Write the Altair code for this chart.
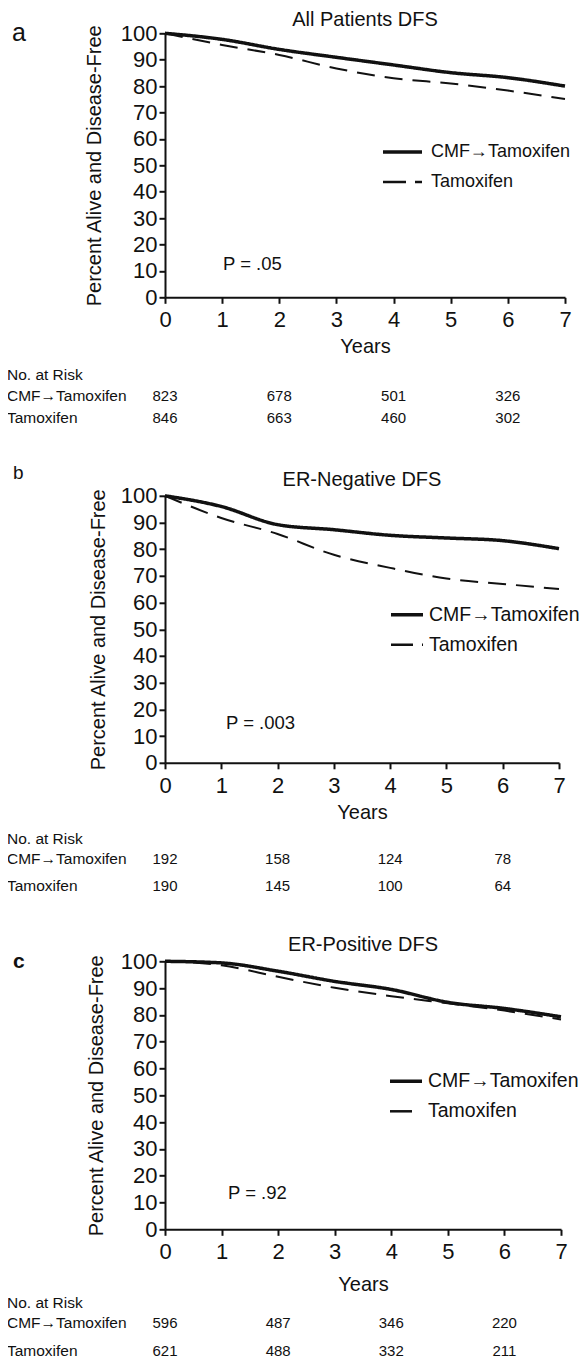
import altair as alt
import pandas as pd

FONT = "Liberation Sans"
INK = "#111111"

YEARS = [0, 1, 2, 3, 4, 5, 6, 7]
ARMS = ["CMF→Tamoxifen", "Tamoxifen"]
Y_TICKS = [0, 10, 20, 30, 40, 50, 60, 70, 80, 90, 100]

# Panel a: All Patients DFS
A_CMF = [100, 97.7, 93.9, 90.9, 88.0, 85.1, 83.2, 80.0]
A_TAM = [100, 95.6, 91.8, 86.7, 83.0, 81.0, 78.3, 75.1]
# Panel b: ER-Negative DFS
B_CMF = [100, 96.0, 89.2, 87.3, 85.2, 84.2, 83.2, 80.2]
B_TAM = [100, 91.7, 85.7, 77.9, 73.0, 69.0, 67.0, 65.1]
# Panel c: ER-Positive DFS
C_CMF = [100, 99.4, 96.3, 92.5, 89.5, 84.7, 82.4, 79.3]
C_TAM = [100, 98.5, 94.2, 90.1, 87.0, 84.3, 81.6, 78.3]

RISK_YEARS = [0, 2, 4, 6]
A_RISK_CMF = [823, 678, 501, 326]
A_RISK_TAM = [846, 663, 460, 302]
B_RISK_CMF = [192, 158, 124, 78]
B_RISK_TAM = [190, 145, 100, 64]
C_RISK_CMF = [596, 487, 346, 220]
C_RISK_TAM = [621, 488, 332, 211]

PANELS = [
    dict(letter="a", letter_x=-153, letter_y=-0.3, letter_size=25, letter_weight="normal",
         title="All Patients DFS", title_y=-13.6, cmf=A_CMF, tam=A_TAM,
         risk_cmf=A_RISK_CMF, risk_tam=A_RISK_TAM, pval="P = .05", p_x=58, p_y=230.7,
         W=400, H=264, leg_x1=218, leg_x2=257, leg_text=266, leg_y1=118.7, leg_y2=148.7,
         leg_font=18, leg_dash=[23, 9], risk_y=[341.7, 362.7, 384.7], label_x=-158,
         xlab_pad=6, years_y=49.7, ytitle_x=-71),
    dict(letter="b", letter_x=-152, letter_y=-22.7, letter_size=19, letter_weight="normal",
         title="ER-Negative DFS", title_y=-16, cmf=B_CMF, tam=B_TAM,
         risk_cmf=B_RISK_CMF, risk_tam=B_RISK_TAM, pval="P = .003", p_x=61, p_y=227.3,
         W=394, H=267, leg_x1=226, leg_x2=258, leg_text=264, leg_y1=119, leg_y2=149,
         leg_font=19.5, leg_dash=[22, 9], risk_y=[343.3, 363.3, 390.3], label_x=-158,
         xlab_pad=6.5, years_y=50, ytitle_x=-67),
    dict(letter="c", letter_x=-152, letter_y=0.3, letter_size=21, letter_weight="bold",
         title="ER-Positive DFS", title_y=-16.7, cmf=C_CMF, tam=C_TAM,
         risk_cmf=C_RISK_CMF, risk_tam=C_RISK_TAM, pval="P = .92", p_x=63, p_y=231.3,
         W=396, H=268, leg_x1=225, leg_x2=257, leg_text=263, leg_y1=120, leg_y2=150,
         leg_font=19.5, leg_dash=[22, 10], risk_y=[341.3, 361.3, 389.8], label_x=-158,
         xlab_pad=6, years_y=55, ytitle_x=-68.5),
]

one = pd.DataFrame({"k": [0]})


def label(text, x, y, size, align="left", weight="normal"):
    return alt.Chart(one).mark_text(
        font=FONT, fontSize=size, fontWeight=weight, align=align, baseline="middle", color=INK
    ).encode(x=alt.value(x), y=alt.value(y), text=alt.value(text))


def panel(p):
    W, H = p["W"], p["H"]
    n = len(YEARS)
    df = pd.DataFrame({
        "year": YEARS + YEARS,
        "pct": p["cmf"] + p["tam"],
        "arm": [ARMS[0]] * n + [ARMS[1]] * n,
    })
    x_enc = alt.X(
        "year:Q",
        scale=alt.Scale(domain=[0, 7], nice=False),
        axis=alt.Axis(
            values=YEARS, format="d", title="Years", grid=False,
            labelFont=FONT, labelFontSize=22, labelColor=INK, labelPadding=p["xlab_pad"],
            labelFlush=False, labelOverlap=False,
            tickSize=6, tickWidth=2, tickColor=INK, domainWidth=2, domainColor=INK,
            titleFont=FONT, titleFontSize=20, titleFontWeight="normal", titleColor=INK,
            titleX=W / 2, titleY=p["years_y"], titleBaseline="middle", titleAlign="center",
        ),
    )
    y_enc = alt.Y(
        "pct:Q",
        scale=alt.Scale(domain=[0, 100], nice=False),
        axis=alt.Axis(
            values=Y_TICKS, title="Percent Alive and Disease-Free", grid=False,
            labelFont=FONT, labelFontSize=22, labelColor=INK, labelPadding=2,
            labelOverlap=False,
            tickSize=6, tickWidth=2, tickColor=INK, domainWidth=2, domainColor=INK,
            titleFont=FONT, titleFontSize=20, titleFontWeight="normal", titleColor=INK,
            titleAngle=-90, titleX=p["ytitle_x"], titleY=H / 2,
            titleBaseline="middle", titleAlign="center",
        ),
    )
    lines = alt.Chart(df).mark_line(interpolate="monotone", color=INK).encode(
        x=x_enc,
        y=y_enc,
        detail="arm:N",
        strokeDash=alt.StrokeDash("arm:N", scale=alt.Scale(domain=ARMS, range=[[1, 0], [18, 10]]), legend=None),
        strokeWidth=alt.StrokeWidth("arm:N", scale=alt.Scale(domain=ARMS, range=[3.5, 2]), legend=None),
    )
    leg_solid = alt.Chart(one).mark_rule(color=INK, strokeWidth=3.5).encode(
        x=alt.value(p["leg_x1"]), x2=alt.value(p["leg_x2"]), y=alt.value(p["leg_y1"]))
    leg_dash = alt.Chart(one).mark_rule(color=INK, strokeWidth=2.5, strokeDash=p["leg_dash"]).encode(
        x=alt.value(p["leg_x1"]), x2=alt.value(p["leg_x2"]), y=alt.value(p["leg_y2"]))
    layers = [
        lines, leg_solid, leg_dash,
        label(ARMS[0], p["leg_text"], p["leg_y1"], p["leg_font"]),
        label(ARMS[1], p["leg_text"], p["leg_y2"], p["leg_font"]),
        label(p["title"], W / 2, p["title_y"], 20, align="center"),
        label(p["letter"], p["letter_x"], p["letter_y"], p["letter_size"], weight=p["letter_weight"]),
        label(p["pval"], p["p_x"], p["p_y"], 18.5),
        label("No. at Risk", p["label_x"], p["risk_y"][0], 15.5),
        label(ARMS[0], p["label_x"], p["risk_y"][1], 15.5),
        label(ARMS[1], p["label_x"], p["risk_y"][2], 15.5),
    ]
    for vals, ry in ((p["risk_cmf"], p["risk_y"][1]), (p["risk_tam"], p["risk_y"][2])):
        dr = pd.DataFrame({"year": RISK_YEARS, "n": vals})
        layers.append(
            alt.Chart(dr).mark_text(font=FONT, fontSize=15, align="center", baseline="middle", color=INK)
            .encode(x=x_enc, y=alt.value(ry), text="n:Q")
        )
    return alt.layer(*layers).properties(width=W, height=H)


chart = (
    alt.vconcat(*[panel(p) for p in PANELS], spacing=198.5, bounds="flush")
    .properties(
        autosize=alt.AutoSizeParams(type="none"),
        padding={"left": 157, "top": 25.3, "right": 415, "bottom": 1334},
        background="white",
    )
    .configure_view(stroke=None)
)

chart.save("out.html", embed_options={"renderer": "svg", "actions": False})
